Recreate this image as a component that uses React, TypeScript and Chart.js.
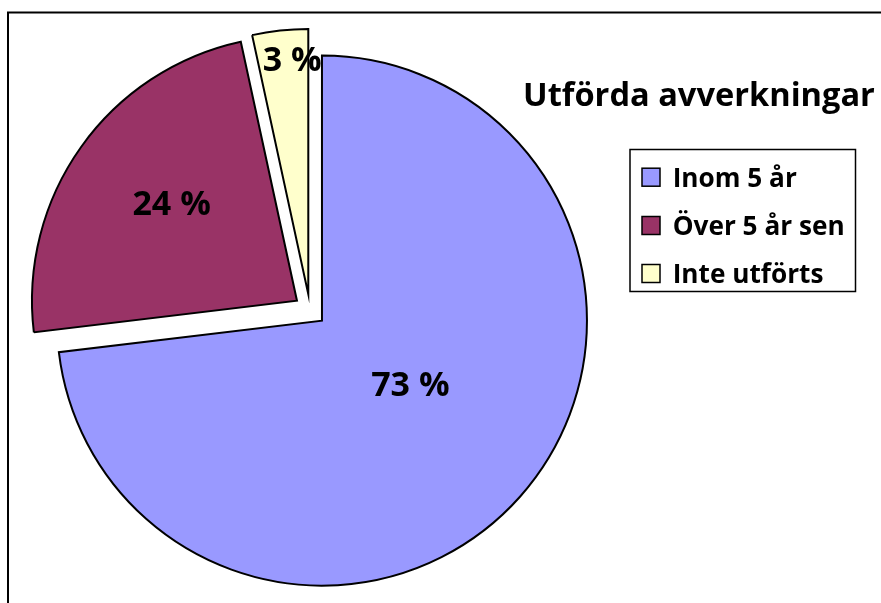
import React, { useEffect, useRef } from "react";
import { Chart, registerables } from "chart.js";

Chart.register(...registerables);

// ---- data ----
const CATEGORIES = ["Inom 5 år", "Över 5 år sen", "Inte utförts"];
const SHARES = [73.1, 23.5, 3.4];
const COLORS = ["#9999FF", "#993366", "#FFFFCC"];
const TITLE = "Utförda avverkningar";

// ---- styling / layout ----
const W = 881;
const H = 603;
const FONT = '"Open Sans", "DejaVu Sans", sans-serif';
const EXPLODE = 16;
const RADIUS = 265;
const LABEL_PLACE = [
  { shift: -6, frac: 0.41 },
  { shift: 2.5, frac: 0.6 },
  { shift: 2.2, frac: 0.89 },
];

const explodePlugin = {
  id: "explodeSlices",
  afterDatasetUpdate(chart: any, args: any) {
    const a = chart.chartArea;
    const cx = (a.left + a.right) / 2;
    const cy = (a.top + a.bottom) / 2;
    args.meta.data.forEach((arc: any) => {
      const mid = (arc.startAngle + arc.endAngle) / 2;
      arc.x = cx + EXPLODE * Math.cos(mid);
      arc.y = cy + EXPLODE * Math.sin(mid);
    });
  },
};

const labelPlugin = {
  id: "sliceLabels",
  afterDatasetsDraw(chart: any) {
    const ctx = chart.ctx;
    const meta = chart.getDatasetMeta(0);
    const size = 34;
    ctx.save();
    ctx.font = `bold ${size}px ${FONT}`;
    ctx.fillStyle = "#000";
    ctx.textAlign = "center";
    ctx.textBaseline = "alphabetic";
    meta.data.forEach((arc: any, i: number) => {
      const p = LABEL_PLACE[i];
      const ang = (arc.startAngle + arc.endAngle) / 2 + (p.shift * Math.PI) / 180;
      const r = p.frac * RADIUS;
      const x = arc.x + r * Math.cos(ang);
      const y = arc.y + r * Math.sin(ang);
      const txt = `${Math.round(SHARES[i])} %`;
      ctx.fillText(txt, x, y + 0.357 * size);
    });
    ctx.restore();
  },
};

function fitFont(ctx: CanvasRenderingContext2D, text: string, base: number, width: number) {
  ctx.font = `bold ${base}px ${FONT}`;
  const w = ctx.measureText(text).width;
  const size = base * (width / w);
  ctx.font = `bold ${size}px ${FONT}`;
}

const decorPlugin = {
  id: "decor",
  afterDraw(chart: any) {
    const ctx = chart.ctx;
    ctx.save();
    // outer frame (clipped by picture edges)
    ctx.strokeStyle = "#000";
    ctx.lineWidth = 2;
    ctx.beginPath();
    ctx.moveTo(8, H + 4);
    ctx.lineTo(8, 12.5);
    ctx.lineTo(W + 4, 12.5);
    ctx.stroke();

    // title
    ctx.fillStyle = "#000";
    ctx.textAlign = "left";
    ctx.textBaseline = "alphabetic";
    fitFont(ctx, TITLE, 32, 352);
    ctx.fillText(TITLE, 523, 105.5);

    // legend
    ctx.lineWidth = 1.5;
    ctx.strokeRect(630, 149.5, 225.5, 142);
    const labels = chart.data.labels as string[];
    const bg = chart.data.datasets[0].backgroundColor as string[];
    const bases = [186.7, 235, 283];
    fitFont(ctx, labels[1], 25, 172);
    labels.forEach((lab, i) => {
      const b = bases[i];
      ctx.fillStyle = bg[i];
      ctx.fillRect(642, b - 18.5, 18, 18);
      ctx.strokeRect(642, b - 18.5, 18, 18);
      ctx.fillStyle = "#000";
      ctx.fillText(lab, 672.7, b);
    });
    ctx.restore();
  },
};

export default function App() {
  const ref = useRef<HTMLCanvasElement | null>(null);

  useEffect(() => {
    if (!ref.current) return;
    const chart = new Chart(ref.current, {
      type: "pie",
      data: {
        labels: CATEGORIES,
        datasets: [
          {
            data: SHARES,
            backgroundColor: COLORS,
            borderColor: "#000",
            borderWidth: 2,
            borderJoinStyle: "miter",
            offset: 0,
            hoverOffset: 0,
          } as any,
        ],
      },
      options: {
        responsive: false,
        animation: false,
        radius: RADIUS,
        layout: { padding: { left: 0, top: 17, right: 261, bottom: 0 } },
        plugins: {
          legend: { display: false },
          title: { display: false },
          tooltip: { enabled: false },
        },
        events: [],
      } as any,
      plugins: [explodePlugin, labelPlugin, decorPlugin],
    });
    return () => chart.destroy();
  }, []);

  return (
    <div style={{ position: "absolute", left: 0, top: 0, width: W, height: H, overflow: "hidden", background: "#fff" }}>
      <canvas ref={ref} width={W} height={H} style={{ display: "block" }} />
    </div>
  );
}
